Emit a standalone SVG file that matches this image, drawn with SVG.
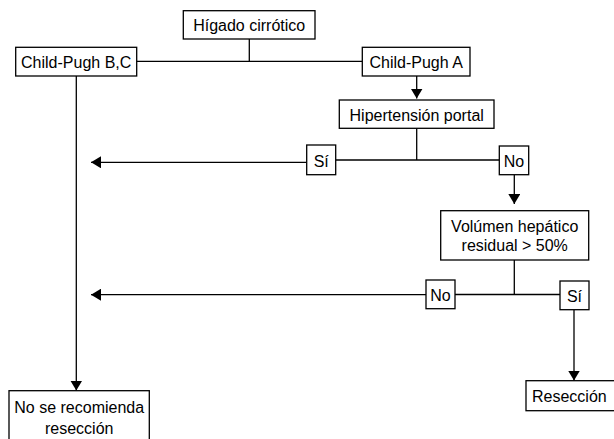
<svg xmlns="http://www.w3.org/2000/svg" width="614" height="439" viewBox="0 0 614 439">
<style>
.box{fill:#fff;stroke:#000;stroke-width:1.3}
.ln{fill:none;stroke:#000;stroke-width:1.3}
text{font-family:"Liberation Sans",Arial,sans-serif;font-size:16px;fill:#000;text-anchor:middle}
</style>
<defs>
<marker id="ah" viewBox="0 0 10 12" refX="10" refY="6" markerWidth="10" markerHeight="12" markerUnits="userSpaceOnUse" orient="auto">
<path d="M0,0 L10,6 L0,12 Z" fill="#000"/>
</marker>
</defs>
<rect width="614" height="439" fill="#fff"/>
<g id="connectors">
<line class="ln" x1="249.3" y1="39" x2="249.3" y2="61.3"/>
<line class="ln" x1="136.7" y1="61.3" x2="362.3" y2="61.3"/>
<line class="ln" x1="76.3" y1="76" x2="76.3" y2="390.5" marker-end="url(#ah)"/>
<line class="ln" x1="416.7" y1="76" x2="416.7" y2="98.5" marker-end="url(#ah)"/>
<line class="ln" x1="416.7" y1="128.3" x2="416.7" y2="160"/>
<line class="ln" x1="335.7" y1="160" x2="499.3" y2="160"/>
<line class="ln" x1="306.7" y1="162.3" x2="91" y2="162.3" marker-end="url(#ah)"/>
<line class="ln" x1="514.3" y1="174.7" x2="514.3" y2="204" marker-end="url(#ah)"/>
<line class="ln" x1="514.3" y1="260" x2="514.3" y2="294.5"/>
<line class="ln" x1="455" y1="294.5" x2="560" y2="294.5"/>
<line class="ln" x1="426" y1="294.7" x2="91" y2="294.7" marker-end="url(#ah)"/>
<line class="ln" x1="574" y1="309.7" x2="574" y2="380.5" marker-end="url(#ah)"/>
</g>
<g id="higado">
<rect class="box" x="183.3" y="10.7" width="131.7" height="28.3"/>
<text x="249.2" y="31">Hígado cirrótico</text>
</g>
<g id="childBC">
<rect class="box" x="15.7" y="47.3" width="121" height="28.7"/>
<text x="76.2" y="68">Child-Pugh B,C</text>
</g>
<g id="childA">
<rect class="box" x="362.3" y="47.3" width="107.7" height="28.7"/>
<text x="416.2" y="68">Child-Pugh A</text>
</g>
<g id="hipertension">
<rect class="box" x="339.3" y="100" width="154.7" height="28.3"/>
<text x="416.7" y="121">Hipertensión portal</text>
</g>
<g id="si1">
<rect class="box" x="306.7" y="145" width="29" height="29.7"/>
<text x="321.2" y="166.5">Sí</text>
</g>
<g id="no1">
<rect class="box" x="499.3" y="146" width="29.4" height="28.7"/>
<text x="514" y="166.5">No</text>
</g>
<g id="volumen">
<rect class="box" x="440.7" y="210.7" width="148" height="49.3"/>
<text x="514.7" y="231.5">Volúmen hepático</text>
<text x="514.7" y="251">residual &gt; 50%</text>
</g>
<g id="no2">
<rect class="box" x="426" y="280" width="29" height="28.7"/>
<text x="440.5" y="300.5">No</text>
</g>
<g id="si2">
<rect class="box" x="560" y="281" width="29" height="28.7"/>
<text x="574.5" y="302">Sí</text>
</g>
<g id="reseccion">
<rect class="box" x="526" y="380.7" width="92" height="30"/>
<text x="532" y="402" style="text-anchor:start">Resección</text>
</g>
<g id="noRecomienda">
<rect class="box" x="9" y="390.7" width="140.3" height="52"/>
<text x="79.2" y="413.3">No se recomienda</text>
<text x="79.2" y="434">resección</text>
</g>
</svg>
